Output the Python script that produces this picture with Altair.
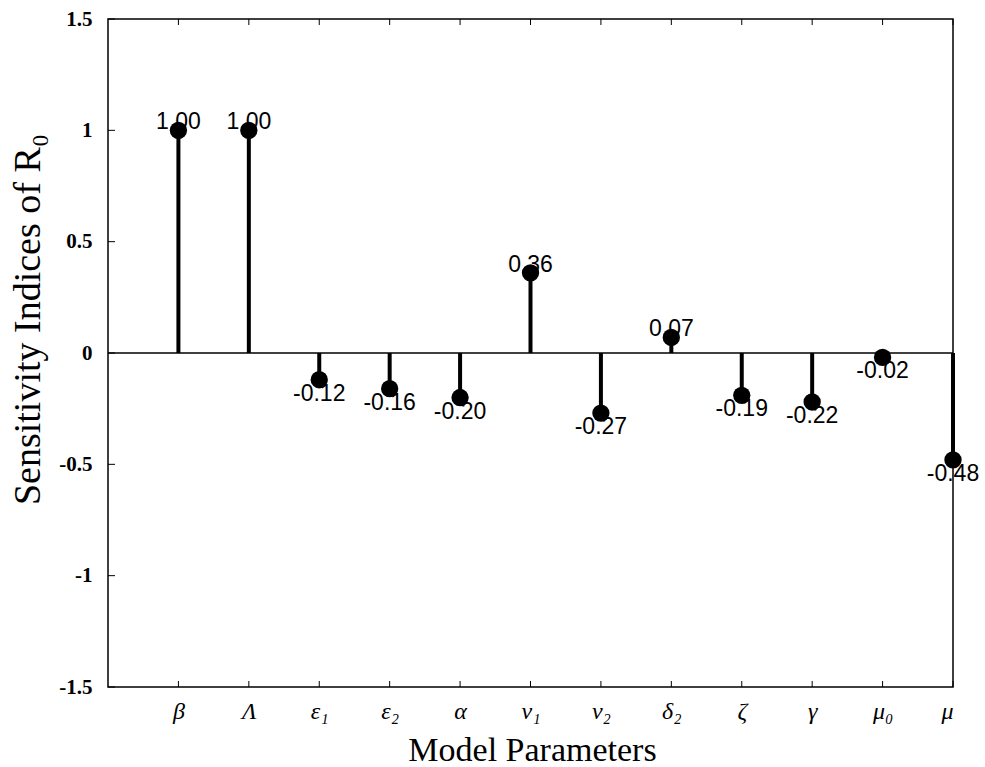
import altair as alt
import pandas as pd

# ---- data ----
params = ["β", "Λ", "ε₁", "ε₂", "α", "ν₁", "ν₂", "δ₂", "ζ", "γ", "μ₀", "μ"]
values = [1.00, 1.00, -0.12, -0.16, -0.20, 0.36, -0.27, 0.07, -0.19, -0.22, -0.02, -0.48]
value_labels = ["1.00", "1.00", "-0.12", "-0.16", "-0.20", "0.36", "-0.27", "0.07", "-0.19", "-0.22", "-0.02", "-0.48"]
y_ticks = [-1.5, -1.0, -0.5, 0.0, 0.5, 1.0, 1.5]
positions = list(range(1, len(params) + 1))

df = pd.DataFrame({"pos": positions, "param": params, "value": values, "label": value_labels})
yt = pd.DataFrame({"t": y_ticks})
xt = pd.DataFrame({"t": positions})

W, H = 845, 668
SERIF = "Liberation Serif"
SANS = "Liberation Sans"

label_expr = "[" + ",".join(f"'{p}'" for p in params) + "][datum.value - 1]"

x_scale = alt.Scale(domain=[0, 12], nice=False, zero=False)
y_scale = alt.Scale(domain=[-1.5, 1.5], nice=False, zero=False)

x_axis = alt.Axis(
    values=positions, labelExpr=label_expr, tickSize=0, domain=False, grid=False,
    labelFont=SERIF, labelFontStyle="italic", labelFontSize=24, labelPadding=12,
    labelColor="black", title="Model Parameters", titleFont=SERIF, titleFontSize=34,
    titleFontWeight="normal", titleColor="black", titleX=424, titleY=63,
    titleBaseline="middle", titleAlign="center",
)
y_axis = alt.Axis(
    values=y_ticks, labelExpr="datum.value + ''", tickSize=0, domain=False, grid=False,
    labelFont=SERIF, labelFontSize=21, labelPadding=16, labelColor="black",
    labelFontWeight="bold",
    title="Sensitivity Indices of R₀", titleFont=SERIF, titleFontSize=38,
    titleFontWeight="normal", titleColor="black", titleX=-80, titleY=300,
    titleAngle=-90, titleBaseline="middle", titleAlign="center",
)

base = alt.Chart(df)

zero_line = alt.Chart(yt).transform_filter("datum.t == 0").mark_rule(
    color="black", strokeWidth=1.5
).encode(
    y=alt.Y("t:Q", scale=y_scale, axis=y_axis),
    x=alt.value(0), x2=alt.value(W),
)

stems = base.mark_rule(color="black", strokeWidth=4).encode(
    x=alt.X("pos:Q", scale=x_scale, axis=x_axis),
    y=alt.Y("value:Q", scale=y_scale),
    y2=alt.datum(0),
)

points = base.mark_point(filled=True, shape="circle", size=300, color="black", opacity=1).encode(
    x=alt.X("pos:Q", scale=x_scale),
    y=alt.Y("value:Q", scale=y_scale),
)

txt_pos = base.transform_filter("datum.value >= 0").mark_text(
    font=SANS, fontSize=23, color="black", baseline="middle", align="center", dy=-8
).encode(
    x=alt.X("pos:Q", scale=x_scale), y=alt.Y("value:Q", scale=y_scale), text="label:N"
)
txt_neg = base.transform_filter("datum.value < 0").mark_text(
    font=SANS, fontSize=23, color="black", baseline="middle", align="center", dy=14
).encode(
    x=alt.X("pos:Q", scale=x_scale), y=alt.Y("value:Q", scale=y_scale), text="label:N"
)

# inward ticks
y_tick_marks = alt.Chart(yt).mark_rule(color="black", strokeWidth=1).encode(
    y=alt.Y("t:Q", scale=y_scale), x=alt.value(0), x2=alt.value(7)
)
top_ticks = alt.Chart(xt).mark_rule(color="black", strokeWidth=1).encode(
    x=alt.X("t:Q", scale=x_scale), y=alt.value(0), y2=alt.value(6)
)
bot_ticks = alt.Chart(xt).mark_rule(color="black", strokeWidth=1).encode(
    x=alt.X("t:Q", scale=x_scale), y=alt.value(H), y2=alt.value(H - 6)
)

chart = alt.layer(
    zero_line, y_tick_marks, top_ticks, bot_ticks, stems, points, txt_pos, txt_neg
).properties(
    width=W, height=H,
    background="white",
    padding={"left": 108, "top": 19, "right": 32, "bottom": 80},
    autosize=alt.AutoSizeParams(type="none"),
).configure_view(
    stroke="black", strokeWidth=1.5
)

chart.save("out.html", embed_options={"renderer": "svg", "actions": False})
